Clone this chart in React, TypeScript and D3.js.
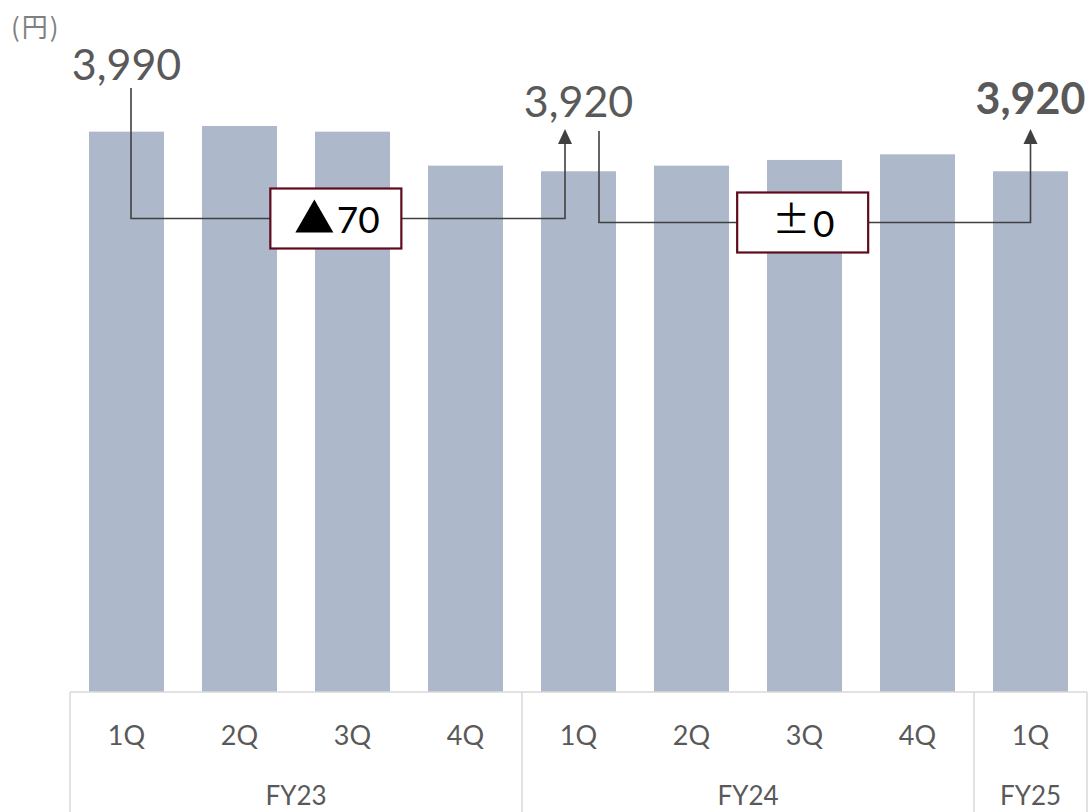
import React from "react";
import * as d3 from "d3";

// Quarterly average unit price (円)
const quarters = ["1Q", "2Q", "3Q", "4Q", "1Q", "2Q", "3Q", "4Q", "1Q"];
const fiscalYears = ["FY23", "FY24", "FY25"];
const quartersPerYear = [4, 4, 1];
const unitPrice = [3990, 4000, 3990, 3930, 3920, 3930, 3940, 3950, 3920];
const yDomain = [3000, 4000];

// Bars whose value is called out above, and the comparisons between them
const labelledBars = [0, 4, 8];
const comparisons: [number, number][] = [
  [0, 4],
  [4, 8],
];

const W = 1089;
const H = 812;
const FONT = "Lato, 'Noto Sans', sans-serif";
const CJK = "'Noto Sans CJK JP', 'Noto Sans', sans-serif";
const TEXT = "#595959";
const LINE = "#404040";
const BAR = "#adb9ca";
const GRID = "#d9d9d9";
const BOX = "#5e0b1d";

// per-callout layout: label baseline, connector start/end offsets and elbow height
const labelLayout = [
  { baseline: 80, bold: false },
  { baseline: 116.5, bold: false },
  { baseline: 113.5, bold: true },
];
const connectorLayout = [
  { startDx: 4.5, startY: 88, endDx: -13.5, elbowY: 218.5, boxCy: 218.5 },
  { startDx: 20.5, startY: 131, endDx: 0, elbowY: 222.5, boxCy: 222.5 },
];

function deltaLabel(d: number) {
  if (d === 0) return { sign: "±", num: "0" };
  if (d < 0) return { sign: "▲", num: d3.format(",")(-d) };
  return { sign: "+", num: d3.format(",")(d) };
}

export default function App() {
  const x = d3
    .scaleBand<number>()
    .domain(d3.range(unitPrice.length))
    .range([70, 1087])
    .paddingInner(0.336)
    .paddingOuter(0.168);
  const y = d3.scaleLinear().domain(yDomain).range([692, 126]);
  const step = x.step();
  const cx = (i: number) => (x(i) as number) + x.bandwidth() / 2;
  const fmt = d3.format(",");

  // fiscal-year group boundaries
  const starts: number[] = [];
  let acc = 0;
  quartersPerYear.forEach((n) => {
    starts.push(acc);
    acc += n;
  });
  const left = x.range()[0];
  const right = x.range()[1];
  const axisTop = y(yDomain[0]);

  return (
    <div style={{ position: "absolute", left: 0, top: 0 }}>
      <svg width={W} height={H} style={{ display: "block", background: "#fff" }}>
        {/* unit */}
        <text x={11} y={37} fontFamily={CJK} fontSize={26} fill="#7f7f7f" letterSpacing={2}>
          (円)
        </text>

        {/* bars */}
        {unitPrice.map((v, i) => (
          <rect
            key={i}
            x={x(i)}
            y={y(v)}
            width={x.bandwidth()}
            height={y(yDomain[0]) - y(v)}
            fill={BAR}
          />
        ))}

        {/* category axis table */}
        <g stroke={GRID} strokeWidth={1.5} fill="none">
          <line x1={left} x2={right} y1={axisTop} y2={axisTop} />
          {starts.map((s, k) => (
            <line key={k} x1={left + s * step} x2={left + s * step} y1={axisTop} y2={H} />
          ))}
          <line x1={right} x2={right} y1={axisTop} y2={H} />
        </g>
        {quarters.map((q, i) => (
          <text
            key={i}
            x={cx(i)}
            y={745}
            textAnchor="middle"
            fontFamily={FONT}
            fontSize={27}
            fill={TEXT}
          >
            {q}
          </text>
        ))}
        {fiscalYears.map((fy, k) => (
          <text
            key={fy}
            x={left + (starts[k] + quartersPerYear[k] / 2) * step}
            y={805}
            textAnchor="middle"
            fontFamily={FONT}
            fontSize={26}
            fill={TEXT}
          >
            {fy}
          </text>
        ))}

        {/* value callouts */}
        {labelledBars.map((b, k) => (
          <text
            key={b}
            x={cx(b)}
            y={labelLayout[k].baseline}
            textAnchor="middle"
            fontFamily={FONT}
            fontSize={43}
            fontWeight={labelLayout[k].bold ? 700 : 400}
            fill={TEXT}
          >
            {fmt(unitPrice[b])}
          </text>
        ))}

        {/* change connectors */}
        {comparisons.map(([a, b], k) => {
          const L = connectorLayout[k];
          const x0 = cx(a) + L.startDx;
          const x1 = cx(b) + L.endDx;
          const tipY = 129;
          const d = deltaLabel(unitPrice[b] - unitPrice[a]);
          const boxCx = x0 + (x1 - x0) * 0.472;
          const bw = 131;
          const bh = 60;
          return (
            <g key={k}>
              <path
                d={`M${x0},${L.startY}V${L.elbowY}H${x1}V${tipY + 14}`}
                fill="none"
                stroke={LINE}
                strokeWidth={1.6}
              />
              <path d={`M${x1},${tipY}L${x1 + 7},${tipY + 15}L${x1 - 7},${tipY + 15}Z`} fill={LINE} />
              <rect
                x={boxCx - bw / 2}
                y={L.boxCy - bh / 2}
                width={bw}
                height={bh}
                fill="#fff"
                stroke={BOX}
                strokeWidth={2.2}
              />
              {d.sign === "▲" ? (
                <g>
                  <path
                    d={`M${boxCx - 40.5},${L.boxCy + 14}L${boxCx - 21.5},${L.boxCy - 19}L${boxCx - 2.5},${L.boxCy + 14}Z`}
                    fill="#000"
                  />
                  <text
                    x={boxCx + 1}
                    y={L.boxCy + 14}
                    fontFamily={FONT}
                    fontSize={37}
                    fill="#000"
                  >
                    {d.num}
                  </text>
                </g>
              ) : (
                <g>
                  <text
                    x={boxCx - 11.5}
                    y={L.boxCy + 10}
                    textAnchor="middle"
                    fontFamily={CJK}
                    fontSize={38}
                    fill="#000"
                  >
                    {d.sign}
                  </text>
                  <text
                    x={boxCx + 21}
                    y={L.boxCy + 14.5}
                    textAnchor="middle"
                    fontFamily={FONT}
                    fontSize={37}
                    fill="#000"
                  >
                    {d.num}
                  </text>
                </g>
              )}
            </g>
          );
        })}
      </svg>
    </div>
  );
}
